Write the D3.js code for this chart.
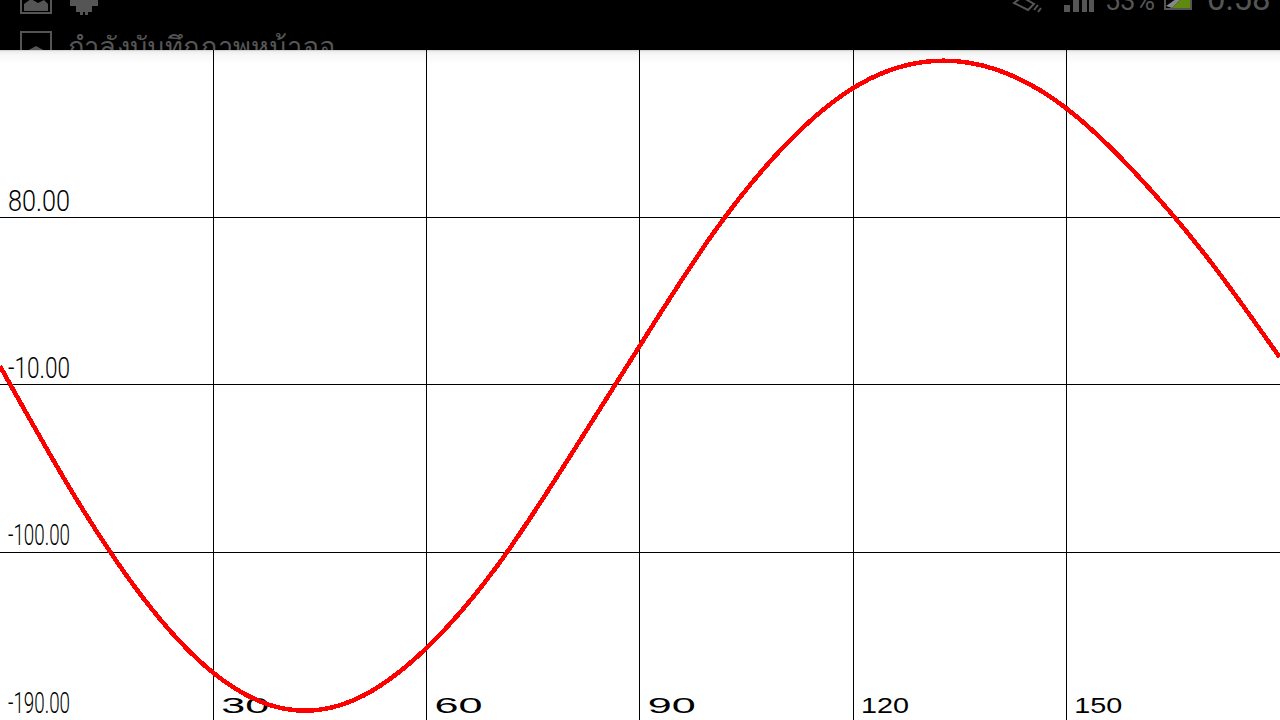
<!DOCTYPE html>
<html><head><meta charset="utf-8">
<script src="https://cdn.jsdelivr.net/npm/d3@7"></script>
<style>html,body{margin:0;padding:0;background:#fff;overflow:hidden}svg{display:block}</style>
</head><body><svg id="c" width="1280" height="720"></svg>
<script>
const xTicks = [30, 60, 90, 120, 150];
const yTicks = [80, -10, -100, -190];
const curveX = [0,10,20,30,40,50,60,70,80,90,100,110,120,130,140,150,160,170,180];
const curveY = [0.1,-66.6,-123.8,-164.7,-184,-179,-151.4,-107,-49.5,11,69.7,117,149.5,163.6,159.7,138.7,102.7,57.7,5];
const statusTitle = "กำลังบันทึกภาพหน้าจอ";
const statusBattery = "53%";
const statusClock = "0:58";

const svg = d3.select("#c");
const x = d3.scaleLinear().domain([0,180]).range([0,1279.5]);
const y = d3.scaleLinear().domain([-190,80]).range([719.9,217.5]);
const defs = svg.append("defs");
const g = defs.append("linearGradient").attr("id","sh").attr("x1",0).attr("x2",0).attr("y1",0).attr("y2",1);
[[0,"#c9c9c9"],[0.12,"#efefef"],[0.4,"#f8f8f8"],[1,"#ffffff"]].forEach(s=>g.append("stop").attr("offset",s[0]).attr("stop-color",s[1]));
defs.append("clipPath").attr("id","bar").append("rect").attr("width",1280).attr("height",50);

svg.append("rect").attr("width",1280).attr("height",720).attr("fill","#fff");
svg.append("rect").attr("y",50).attr("width",1280).attr("height",14).attr("fill","url(#sh)");

// grid + axes
const yAxis = svg.append("g").call(d3.axisRight(y).tickValues(yTicks).tickSize(1280).offset(0).tickFormat(d=>d.toFixed(2)));
yAxis.select(".domain").remove();
yAxis.selectAll("line").attr("stroke","#000").attr("shape-rendering","crispEdges");
yAxis.selectAll(".tick").filter(d=>d===-190).select("line").remove();
yAxis.selectAll("text").attr("x",8).attr("dy",null).attr("y",-7)
  .attr("font-family","Roboto").attr("font-weight",300).attr("font-size",29.5).attr("fill","#000")
  .attr("text-anchor","start").attr("textLength",62).attr("lengthAdjust","spacingAndGlyphs");

const xAxis = svg.append("g").attr("transform","translate(0,720)")
  .call(d3.axisTop(x).tickValues(xTicks).tickSize(670).offset(0).tickFormat(d3.format("d")));
xAxis.select(".domain").remove();
xAxis.selectAll("line").attr("stroke","#000").attr("shape-rendering","crispEdges");
xAxis.selectAll("text").attr("x",8).attr("y",-7).attr("dy",null)
  .attr("font-family","'Liberation Sans'").attr("font-size",22).attr("fill","#000")
  .attr("text-anchor","start").attr("textLength",48).attr("lengthAdjust","spacingAndGlyphs");

// curve
const line = d3.line().x(d=>x(d[0])).y(d=>y(d[1])).curve(d3.curveNatural);
svg.append("path").attr("d",line(curveX.map((v,i)=>[v,curveY[i]])))
  .attr("fill","none").attr("stroke","#f00").attr("stroke-width",4.5).attr("shape-rendering","crispEdges");

// status bar
const bar = svg.append("g");
bar.append("rect").attr("width",1280).attr("height",50).attr("fill","#000");
const s = bar.append("g").attr("clip-path","url(#bar)");
const gray="#555";
// gallery icon
s.append("rect").attr("x",21).attr("y",-12).attr("width",30).attr("height",25).attr("fill","none").attr("stroke",gray).attr("stroke-width",2);
s.append("path").attr("d","M24 11 L24 4 L31 -1 L38 3 L44 0 L48 4 L48 11Z").attr("fill",gray);
// android icon
s.append("path").attr("d","M70 0 H98 V6 H92 V12 H88 V15 H85 V12 H83 V15 H80 V12 H76 V6 H70Z").attr("fill",gray);
// notification icon
s.append("rect").attr("x",21).attr("y",32).attr("width",30).attr("height",30).attr("fill","none").attr("stroke",gray).attr("stroke-width",2);
s.append("path").attr("d","M25 52 L36 46 L47 52Z").attr("fill",gray);
s.append("text").attr("x",68).attr("y",56).attr("font-family","'Noto Sans','DejaVu Sans',sans-serif").attr("font-size",27).attr("textLength",267).attr("lengthAdjust","spacingAndGlyphs").attr("fill",gray).text(statusTitle);
// right side
s.append("path").attr("d","M1014 3 L1022 -3 L1034 4 L1028 10Z").attr("fill","none").attr("stroke",gray).attr("stroke-width",2);
s.append("path").attr("d","M1034 10 L1038 5 M1038 12 L1041 8").attr("stroke",gray).attr("stroke-width",2);
s.append("rect").attr("x",1064).attr("y",5).attr("width",6).attr("height",7).attr("fill",gray);
s.append("rect").attr("x",1073).attr("y",0).attr("width",6).attr("height",12).attr("fill",gray);
s.append("rect").attr("x",1082).attr("y",0).attr("width",5).attr("height",12).attr("fill",gray);
s.append("rect").attr("x",1089).attr("y",0).attr("width",5).attr("height",12).attr("fill",gray);
s.append("text").attr("x",1105).attr("y",10).attr("font-family","Roboto").attr("font-size",27).attr("fill",gray).text(statusBattery);
s.append("rect").attr("x",1165).attr("y",-8).attr("width",26).attr("height",17).attr("fill","none").attr("stroke",gray).attr("stroke-width",2);
s.append("path").attr("d","M1172 8 L1180 0 H1190 V8Z").attr("fill","#5f8a10");
s.append("path").attr("d","M1166 6 L1176 -1 L1180 0 L1172 8Z").attr("fill","#888");
s.append("text").attr("x",1207).attr("y",10).attr("font-family","Roboto").attr("font-size",33).attr("fill",gray).text(statusClock);
</script></body></html>
